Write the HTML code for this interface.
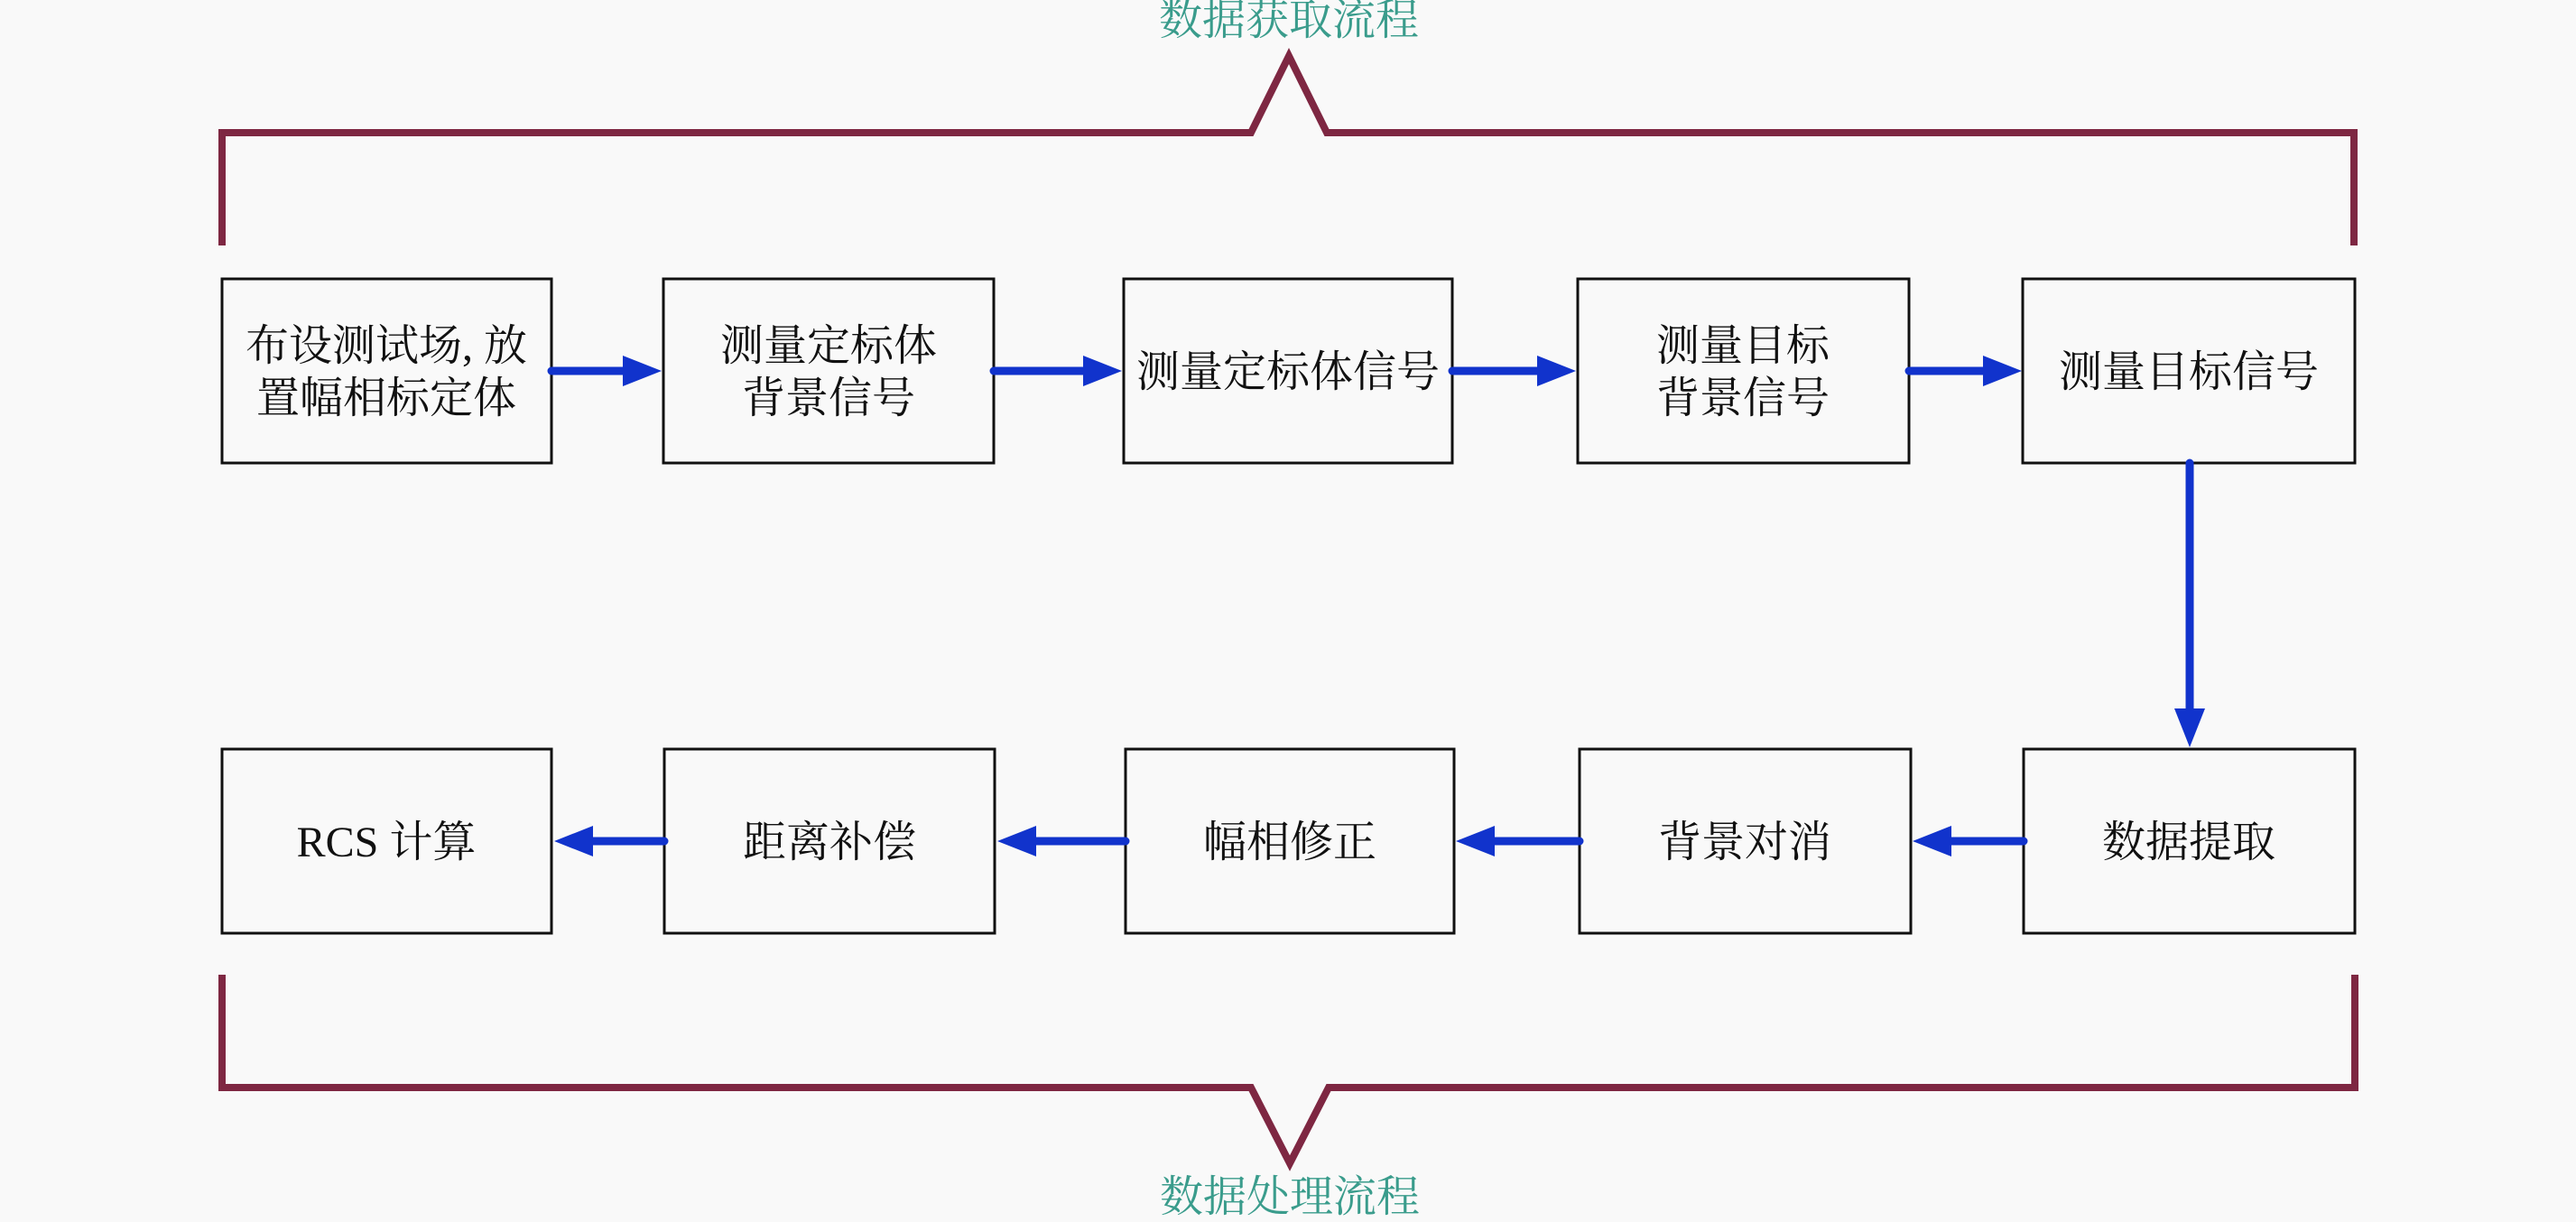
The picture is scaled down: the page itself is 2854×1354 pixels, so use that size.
<!DOCTYPE html>
<html><head><meta charset="utf-8"><style>
html,body{margin:0;padding:0;background:#f9f9f9;}
svg{display:block}
text{font-family:"Liberation Serif","Noto Serif CJK SC","Noto Sans CJK SC",serif;}
</style></head><body>
<svg width="2854" height="1354" viewBox="0 0 2854 1354" xmlns="http://www.w3.org/2000/svg">
<rect width="2854" height="1354" fill="#f9f9f9"/>
<polyline points="246,272 246,147 1386,147 1428,62 1470,147 2608,147 2608,272" fill="none" stroke="#7e2742" stroke-width="8"/>
<text x="1428" y="38" font-size="48" fill="#3a9c8c" text-anchor="middle">数据获取流程</text>
<polyline points="246,1080 246,1205 1386,1205 1429,1289 1472,1205 2609,1205 2609,1080" fill="none" stroke="#7e2742" stroke-width="8"/>
<text x="1429" y="1342" font-size="48" fill="#3a9c8c" text-anchor="middle">数据处理流程</text>
<g fill="none" stroke="#111" stroke-width="3">
<rect x="246" y="309" width="365" height="204"/>
<rect x="735" y="309" width="366" height="204"/>
<rect x="1245" y="309" width="364" height="204"/>
<rect x="1748" y="309" width="367" height="204"/>
<rect x="2241" y="309" width="368" height="204"/>
<rect x="246" y="830" width="365" height="204"/>
<rect x="736" y="830" width="366" height="204"/>
<rect x="1247" y="830" width="364" height="204"/>
<rect x="1750" y="830" width="367" height="204"/>
<rect x="2242" y="830" width="367" height="204"/>
</g>
<g font-size="48" fill="#111" text-anchor="middle">
<text x="428" y="399">布设测试场, 放</text>
<text x="428" y="457">置幅相标定体</text>
<text x="918" y="399">测量定标体</text>
<text x="918" y="457">背景信号</text>
<text x="1427" y="428">测量定标体信号</text>
<text x="1931" y="399">测量目标</text>
<text x="1931" y="457">背景信号</text>
<text x="2425" y="428">测量目标信号</text>
<text x="428" y="949">RCS 计算</text>
<text x="919" y="949">距离补偿</text>
<text x="1429" y="949">幅相修正</text>
<text x="1933" y="949">背景对消</text>
<text x="2425" y="949">数据提取</text>
</g>
<g stroke="#1133cc" stroke-width="9" stroke-linecap="round" fill="#1133cc">
<line x1="611" y1="411" x2="695" y2="411"/><polygon stroke="none" points="690,394 733,411 690,428"/>
<line x1="1101" y1="411" x2="1205" y2="411"/><polygon stroke="none" points="1200,394 1243,411 1200,428"/>
<line x1="1609" y1="411" x2="1708" y2="411"/><polygon stroke="none" points="1703,394 1746,411 1703,428"/>
<line x1="2115" y1="411" x2="2202" y2="411"/><polygon stroke="none" points="2197,394 2240,411 2197,428"/>
<line x1="2426" y1="513" x2="2426" y2="790"/><polygon stroke="none" points="2409,785 2426,828 2443,785"/>
<line x1="2242" y1="932" x2="2158" y2="932"/><polygon stroke="none" points="2162,915 2119,932 2162,949"/>
<line x1="1750" y1="932" x2="1652" y2="932"/><polygon stroke="none" points="1656,915 1613,932 1656,949"/>
<line x1="1247" y1="932" x2="1144" y2="932"/><polygon stroke="none" points="1148,915 1105,932 1148,949"/>
<line x1="736" y1="932" x2="653" y2="932"/><polygon stroke="none" points="657,915 614,932 657,949"/>
</g>
</svg>
</body></html>
